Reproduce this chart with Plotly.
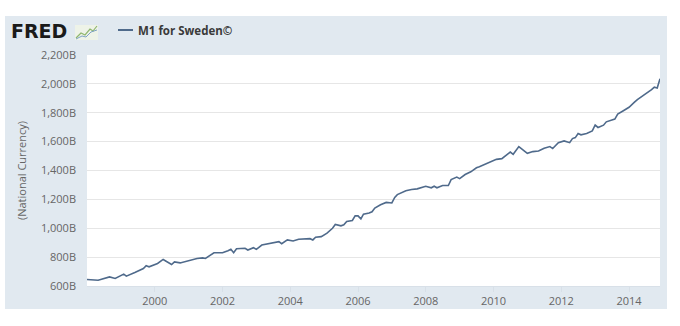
import plotly.graph_objects as go

dates = ["1998-01","1998-05","1998-09","1998-11","1999-02","1999-03","1999-06","1999-09","1999-10","1999-11",
         "2000-02","2000-04","2000-07","2000-08","2000-10","2000-12","2001-02","2001-04","2001-06","2001-07",
         "2001-10","2002-01","2002-03","2002-04","2002-05","2002-06","2002-09","2002-10","2002-12","2003-01",
         "2003-03","2003-06","2003-08","2003-09","2003-10","2003-12","2004-02","2004-04","2004-08","2004-09",
         "2004-10","2004-12","2005-02","2005-04","2005-05","2005-07","2005-08","2005-09","2005-11","2005-12",
         "2006-01","2006-02","2006-03","2006-05","2006-06","2006-07","2006-09","2006-11","2007-01","2007-02",
         "2007-03","2007-05","2007-06","2007-08","2007-10","2008-01","2008-03","2008-04","2008-05","2008-07",
         "2008-09","2008-10","2008-12","2009-01","2009-03","2009-05","2009-07","2009-08","2009-10","2009-12",
         "2010-02","2010-04","2010-05","2010-06","2010-07","2010-08","2010-10","2010-12","2011-01","2011-03",
         "2011-05","2011-07","2011-09","2011-10","2011-12","2012-02","2012-04","2012-05","2012-06","2012-07",
         "2012-08","2012-10","2012-12","2013-01","2013-02","2013-04","2013-05","2013-08","2013-09","2013-11",
         "2014-01","2014-03","2014-04","2014-06","2014-07","2014-09","2014-10","2014-11","2014-12"]
m1_billions = [645,640,663,652,682,668,693,721,740,733,
               756,784,749,767,760,772,780,791,795,791,
               830,830,844,854,830,858,861,849,865,854,
               884,896,903,907,893,919,912,924,928,919,
               938,942,966,1000,1026,1017,1024,1047,1054,1086,
               1086,1065,1098,1105,1114,1140,1163,1179,1175,1214,
               1233,1249,1260,1268,1273,1291,1280,1291,1280,1296,
               1296,1337,1354,1344,1372,1391,1419,1426,1442,1458,
               1477,1482,1496,1512,1528,1512,1566,1535,1519,1531,
               1535,1554,1566,1552,1593,1605,1593,1621,1628,1656,
               1647,1656,1674,1715,1698,1714,1737,1756,1791,1814,
               1838,1873,1891,1919,1931,1960,1977,1972,2035]
series_name = "M1 for Sweden©"
y_ticks = [600, 800, 1000, 1200, 1400, 1600, 1800, 2000, 2200]
y_ticktext = ["600B", "800B", "1,000B", "1,200B", "1,400B", "1,600B", "1,800B", "2,000B", "2,200B"]
x_ticks = ["2000-01-01", "2002-01-01", "2004-01-01", "2006-01-01", "2008-01-01",
           "2010-01-01", "2012-01-01", "2014-01-01"]
x_ticktext = ["2000", "2002", "2004", "2006", "2008", "2010", "2012", "2014"]

W, H = 680, 326
L, R, T, B = 87, 20, 55, 40
pw, ph = W - L - R, H - T - B
LINE_COLOR = "#4f6a8b"

def px(x):
    return (x - L) / pw

def py(y):
    return (H - B - y) / ph

fig = go.Figure()
fig.add_trace(go.Scatter(x=dates, y=m1_billions, mode="lines", name=series_name,
                         showlegend=False,
                         line=dict(color=LINE_COLOR, width=1.6)))

shapes = [
    dict(type="rect", xref="paper", yref="paper", x0=px(5), x1=px(667), y0=py(309), y1=py(16),
         fillcolor="#e1e9f0", line=dict(width=0), layer="below"),
    dict(type="rect", xref="paper", yref="paper", x0=0, x1=1, y0=0, y1=1,
         fillcolor="white", line=dict(width=0), layer="below"),
    # small logo icon
    dict(type="rect", xref="paper", yref="paper", x0=px(75), x1=px(98), y0=py(40), y1=py(25),
         fillcolor="#eef3e8", line=dict(width=0)),
    dict(type="path", xref="paper", yref="paper",
         path=f"M {px(76)} {py(38)} L {px(81)} {py(33)} L {px(85)} {py(35)} L {px(90)} {py(29)} L {px(93)} {py(31)} L {px(97)} {py(26)}",
         line=dict(color="#8fb66e", width=1.2)),
    dict(type="path", xref="paper", yref="paper",
         path=f"M {px(76)} {py(39)} L {px(82)} {py(36)} L {px(86)} {py(37)} L {px(91)} {py(32)} L {px(97)} {py(30)}",
         line=dict(color="#7ea3c4", width=1.0)),
    # legend sample line
    dict(type="line", xref="paper", yref="paper", x0=px(118), x1=px(133), y0=py(30), y1=py(30),
         line=dict(color=LINE_COLOR, width=2)),
]

annotations = [
    dict(text="<b>FRED</b>", xref="paper", yref="paper", x=px(9), y=py(31), xanchor="left",
         yanchor="middle", showarrow=False,
         font=dict(family="DejaVu Sans", size=19, color="#1a1a1a")),
    dict(text="<b>" + series_name + "</b>", xref="paper", yref="paper", x=px(136), y=py(30),
         xanchor="left", yanchor="middle", showarrow=False,
         font=dict(family="Open Sans", size=11.5, color="#3a3a3a")),
]

fig.update_layout(
    width=W, height=H,
    margin=dict(l=L, r=R, t=T, b=B, pad=0),
    paper_bgcolor="white",
    plot_bgcolor="white",
    font=dict(family="Open Sans", size=11, color="#666666"),
    showlegend=False,
    shapes=shapes,
    annotations=annotations,
    xaxis=dict(range=["1998-01-01", "2014-12-01"], tickvals=x_ticks, ticktext=x_ticktext,
               showgrid=False, zeroline=False, showline=True, linecolor="#d8e0e8",
               ticks="outside", ticklen=5, tickcolor="#d8e0e8",
               tickfont=dict(size=11, color="#666666")),
    yaxis=dict(range=[600, 2200], tickvals=y_ticks, ticktext=y_ticktext,
               showgrid=True, gridcolor="#e6e6e6", gridwidth=1, zeroline=False,
               showline=False, ticks="", ticklabelstandoff=10,
               tickfont=dict(size=11, color="#666666"),
               title=dict(text="(National Currency)", standoff=12,
                          font=dict(size=11, color="#666666"))),
)

fig.write_html("out.html")
